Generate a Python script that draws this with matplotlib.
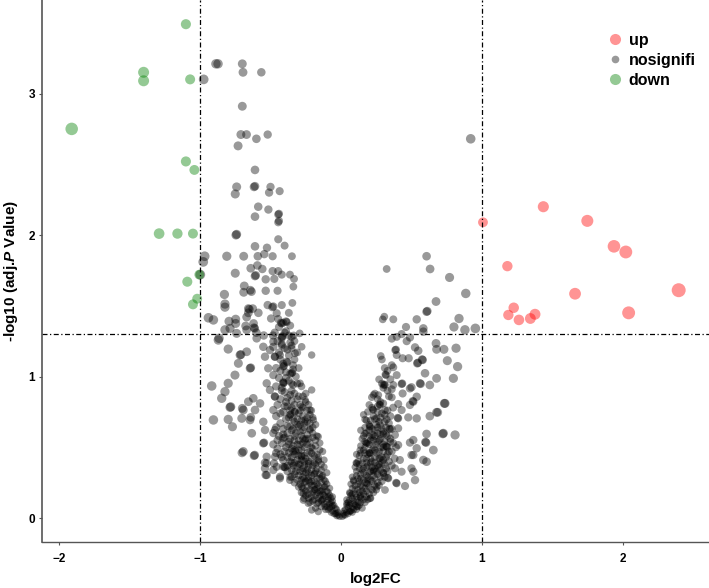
import numpy as np
import matplotlib
matplotlib.use("Agg")
import matplotlib.pyplot as plt
from matplotlib.lines import Line2D

plt.rcParams['font.family'] = ['Liberation Sans', 'DejaVu Sans']
plt.rcParams['mathtext.fontset'] = 'custom'
plt.rcParams['mathtext.rm'] = 'Liberation Sans:bold'
plt.rcParams['mathtext.it'] = 'Liberation Sans:bold:italic'

# significant genes (log2FC, -log10 adj.P)
up_x = [1.435, 1.007, 1.747, 1.936, 2.02, 1.18, 1.66, 2.395, 1.225, 1.187, 1.262, 1.343, 1.376, 2.04]
up_y = [2.20, 2.09, 2.10, 1.92, 1.88, 1.78, 1.585, 1.61, 1.486, 1.435, 1.40, 1.41, 1.44, 1.45]

down_x = [-1.10, -1.40, -1.40, -1.07, -1.91, -1.10, -1.04, -1.29, -1.16, -1.05, -1.005, -1.09, -1.02, -1.05]
down_y = [3.49, 3.15, 3.09, 3.10, 2.75, 2.52, 2.46, 2.01, 2.01, 2.01, 1.72, 1.67, 1.55, 1.51]

# non significant genes, by region of the cloud
ns_left_upper = [
    (-0.887, 3.21), (-0.872, 3.21), (-0.70, 3.21), (-0.695, 3.15), (-0.565, 3.15), (-0.974, 3.10),
    (-0.70, 2.91), (-0.71, 2.71), (-0.67, 2.71), (-0.60, 2.68), (-0.52, 2.71), (-0.73, 2.63), (-0.61, 2.46),
    (-0.74, 2.34), (-0.617, 2.34), (-0.61, 2.345), (-0.50, 2.34), (-0.75, 2.29), (-0.51, 2.30), (-0.435, 2.31),
    (-0.587, 2.20), (-0.515, 2.18), (-0.445, 2.145), (-0.44, 2.15), (-0.61, 2.13), (-0.44, 2.10), (-0.445, 2.09),
    (-0.74, 2.005), (-0.745, 2.00),
    (-0.61, 1.92), (-0.525, 1.91), (-0.445, 1.97), (-0.40, 1.925),
    (-0.967, 1.85), (-0.977, 1.81), (-0.81, 1.85), (-0.69, 1.85), (-0.59, 1.85), (-0.544, 1.865), (-0.485, 1.85),
    (-0.348, 1.85),
    (-0.64, 1.765), (-0.593, 1.785), (-0.558, 1.76), (-0.485, 1.745), (-0.445, 1.745), (-0.75, 1.73), (-0.61, 1.71),
    (-0.605, 1.715), (-0.534, 1.687), (-0.473, 1.69), (-0.42, 1.72), (-0.362, 1.72), (-0.333, 1.69), (-0.998, 1.72),
    (-0.338, 1.635), (-0.686, 1.64), (-0.643, 1.61), (-0.635, 1.60), (-0.69, 1.595), (-0.534, 1.606), (-0.45, 1.606),
    (-0.827, 1.58),
    (-0.823, 1.49), (-0.657, 1.48), (-0.650, 1.475), (-0.586, 1.45), (-0.52, 1.505), (-0.487, 1.49), (-0.480, 1.495),
    (-0.42, 1.505), (-0.345, 1.52),
    (-0.94, 1.415), (-0.905, 1.40), (-0.794, 1.39), (-0.747, 1.405), (-0.669, 1.42), (-0.676, 1.357), (-0.657, 1.45),
    (-0.496, 1.41), (-0.445, 1.406), (-0.426, 1.38), (-0.420, 1.375), (-0.39, 1.39), (-0.385, 1.385), (-0.37, 1.45),
    (-0.456, 1.447),
    (-0.617, 1.345), (-0.612, 1.34), (-0.60, 1.31), (-0.548, 1.29), (-0.482, 1.29), (-0.40, 1.31), (-0.336, 1.29),
    (-0.293, 1.305), (-0.865, 1.27), (-0.74, 1.305), (-0.823, 1.33), (-0.787, 1.34), (-0.747, 1.375), (-0.62, 1.375),
    (-0.626, 1.48), (-0.669, 1.33), (-0.823, 1.512),
]

ns_left_middle = [
    (-0.87, 1.258), (-0.80, 1.194), (-0.716, 1.152), (-0.710, 1.155), (-0.669, 1.175), (-0.728, 1.093),
    (-0.645, 1.058), (-0.640, 1.062), (-0.752, 1.01), (-0.917, 0.933), (-0.80, 0.952), (-0.823, 0.893),
    (-0.846, 0.846), (-0.787, 0.782), (-0.782, 0.786), (-0.693, 0.763), (-0.622, 0.846), (-0.657, 0.822),
    (-0.905, 0.693), (-0.80, 0.697), (-0.77, 0.645), (-0.704, 0.704), (-0.645, 0.693), (-0.633, 0.599),
    (-0.70, 0.775), (-0.64, 0.711),
    (-0.527, 0.952), (-0.504, 0.905), (-0.468, 0.857), (-0.48, 0.763), (-0.41, 0.563), (-0.468, 0.622),
    (-0.539, 0.622), (-0.551, 0.68), (-0.61, 0.763), (-0.574, 0.81), (-0.539, 1.14), (-0.504, 1.187),
    (-0.551, 1.21), (-0.598, 1.27), (-0.48, 1.246), (-0.468, 1.14), (-0.516, 1.058), (-0.41, 1.07),
    (-0.405, 1.075), (-0.35, 1.023), (-0.345, 1.028), (-0.41, 0.952), (-0.405, 0.956), (-0.35, 0.952),
    (-0.291, 0.952), (-0.208, 1.152), (-0.208, 0.905), (-0.255, 0.834), (-0.326, 0.751), (-0.362, 0.728),
    (-0.357, 0.732), (-0.279, 0.787), (-0.22, 0.763), (-0.196, 0.693), (-0.255, 0.693), (-0.303, 0.645),
    (-0.22, 0.622), (-0.161, 0.575), (-0.255, 0.551),
    (-0.42, 1.28), (-0.415, 1.285), (-0.35, 1.28), (-0.42, 1.23), (-0.35, 1.22), (-0.326, 1.164),
    (-0.279, 1.21), (-0.385, 1.105), (-0.433, 1.152),
]

ns_left_lower = [
    (-0.693, 0.47), (-0.702, 0.461), (-0.617, 0.44), (-0.612, 0.445), (-0.551, 0.528), (-0.546, 0.532),
    (-0.539, 0.39), (-0.527, 0.304), (-0.456, 0.362), (-0.397, 0.358), (-0.433, 0.28), (-0.35, 0.292),
    (-0.527, 0.433), (-0.468, 0.433), (-0.267, 0.174), (-0.267, 0.127), (-0.326, 0.48), (-0.279, 0.433),
    (-0.208, 0.457), (-0.161, 0.41), (-0.232, 0.386), (-0.184, 0.316), (-0.137, 0.292), (-0.232, 0.268),
    (-0.113, 0.221), (-0.184, 0.198), (-0.09, 0.15), (-0.137, 0.127), (-0.066, 0.08), (-0.113, 0.08),
    (-0.03, 0.033), (-0.232, 0.104), (-0.208, 0.057), (-0.161, 0.045), (-0.534, 0.304), (-0.48, 0.339),
    (-0.41, 0.362), (-0.279, 0.221), (-0.262, 0.139), (-0.527, 0.386), (-0.475, 0.386), (-0.539, 0.351),
    (-0.433, 0.292), (-0.362, 0.268),
]

ns_left_core = [
    (-0.02, 0.02), (-0.04, 0.03), (-0.06, 0.05), (-0.03, 0.06), (-0.08, 0.07), (-0.05, 0.09), (-0.10, 0.08),
    (-0.07, 0.11), (-0.12, 0.10), (-0.09, 0.13), (-0.01, 0.01), (-0.03, 0.015), (-0.05, 0.03), (-0.02, 0.04),
    (-0.07, 0.04), (-0.04, 0.07), (-0.09, 0.06), (-0.06, 0.09),
    (-0.14, 0.12), (-0.11, 0.15), (-0.16, 0.14), (-0.13, 0.17), (-0.18, 0.16), (-0.08, 0.16), (-0.15, 0.19),
    (-0.20, 0.18), (-0.10, 0.19), (-0.17, 0.21), (-0.22, 0.20), (-0.12, 0.22),
    (-0.19, 0.23), (-0.24, 0.22), (-0.14, 0.25), (-0.21, 0.26), (-0.26, 0.25), (-0.17, 0.28), (-0.23, 0.29),
    (-0.28, 0.27), (-0.12, 0.27), (-0.19, 0.31), (-0.30, 0.30), (-0.25, 0.32), (-0.15, 0.31),
    (-0.21, 0.34), (-0.27, 0.35), (-0.32, 0.33), (-0.17, 0.35), (-0.23, 0.37), (-0.29, 0.38), (-0.34, 0.37),
    (-0.19, 0.39), (-0.26, 0.40), (-0.14, 0.38), (-0.31, 0.41), (-0.36, 0.40), (-0.21, 0.42),
    (-0.28, 0.44), (-0.33, 0.45), (-0.24, 0.46), (-0.17, 0.45), (-0.38, 0.43), (-0.30, 0.48), (-0.20, 0.49),
    (-0.35, 0.49), (-0.26, 0.50), (-0.40, 0.47), (-0.15, 0.48),
    (-0.22, 0.53), (-0.31, 0.52), (-0.37, 0.54), (-0.27, 0.56), (-0.18, 0.55), (-0.33, 0.58), (-0.24, 0.59),
    (-0.40, 0.57), (-0.29, 0.61), (-0.20, 0.60), (-0.35, 0.62),
    (-0.26, 0.64), (-0.31, 0.66), (-0.22, 0.67), (-0.38, 0.65), (-0.28, 0.69), (-0.18, 0.66), (-0.34, 0.70),
    (-0.24, 0.71),
    (-0.30, 0.74), (-0.36, 0.76), (-0.27, 0.78), (-0.21, 0.76), (-0.33, 0.80), (-0.40, 0.79), (-0.25, 0.82),
    (-0.38, 0.85), (-0.30, 0.86), (-0.35, 0.90), (-0.42, 0.92), (-0.28, 0.93), (-0.37, 0.97), (-0.32, 1.00),
    (-0.44, 0.99),
    (-0.39, 1.03), (-0.34, 1.08), (-0.43, 1.12), (-0.37, 1.15), (-0.31, 1.17), (-0.40, 1.20), (-0.45, 1.25),
    (-0.36, 1.24), (-0.39, 1.32), (-0.44, 1.35),
]

ns_left_core2 = [
    (-0.06, 0.12), (-0.10, 0.11), (-0.13, 0.13), (-0.16, 0.11), (-0.19, 0.13), (-0.21, 0.15), (-0.07, 0.14),
    (-0.12, 0.16), (-0.15, 0.16), (-0.17, 0.18), (-0.23, 0.17), (-0.25, 0.19), (-0.09, 0.18), (-0.13, 0.20),
    (-0.19, 0.20), (-0.27, 0.21), (-0.21, 0.23), (-0.16, 0.23), (-0.10, 0.24), (-0.29, 0.24), (-0.25, 0.26),
    (-0.19, 0.26), (-0.15, 0.28), (-0.31, 0.27), (-0.27, 0.29), (-0.21, 0.30), (-0.13, 0.30), (-0.33, 0.31),
    (-0.29, 0.33), (-0.24, 0.34), (-0.18, 0.33), (-0.35, 0.34), (-0.31, 0.36), (-0.26, 0.37), (-0.20, 0.37),
    (-0.16, 0.40), (-0.38, 0.37), (-0.33, 0.39), (-0.28, 0.41), (-0.23, 0.40), (-0.41, 0.41), (-0.35, 0.43),
    (-0.30, 0.44), (-0.26, 0.44), (-0.19, 0.44), (-0.43, 0.45), (-0.37, 0.46), (-0.32, 0.47), (-0.22, 0.47),
    (-0.28, 0.48), (-0.45, 0.49), (-0.39, 0.50), (-0.34, 0.51), (-0.29, 0.52), (-0.24, 0.52), (-0.18, 0.51),
    (-0.42, 0.53), (-0.36, 0.56), (-0.30, 0.55), (-0.25, 0.56), (-0.20, 0.57), (-0.44, 0.58), (-0.38, 0.60),
    (-0.32, 0.60), (-0.27, 0.62), (-0.22, 0.63), (-0.41, 0.63), (-0.36, 0.65), (-0.29, 0.66), (-0.24, 0.68),
    (-0.33, 0.68), (-0.39, 0.70), (-0.27, 0.72), (-0.20, 0.71), (-0.43, 0.74), (-0.33, 0.75), (-0.24, 0.76),
    (-0.38, 0.79), (-0.29, 0.80), (-0.35, 0.83), (-0.43, 0.84), (-0.27, 0.86), (-0.33, 0.88), (-0.40, 0.89),
    (-0.46, 0.93), (-0.31, 0.95), (-0.41, 0.96), (-0.36, 1.02), (-0.30, 1.06), (-0.46, 1.06), (-0.41, 1.09),
    (-0.33, 1.12), (-0.44, 1.17), (-0.38, 1.19), (-0.48, 1.21), (-0.33, 1.25), (-0.42, 1.27),
]

ns_left_core3 = [
    (-0.11, 0.06), (-0.14, 0.08), (-0.17, 0.10), (-0.20, 0.12), (-0.23, 0.14), (-0.08, 0.10), (-0.18, 0.07),
    (-0.25, 0.16), (-0.22, 0.11), (-0.14, 0.19), (-0.28, 0.18), (-0.06, 0.15),
    (-0.30, 0.22), (-0.33, 0.25), (-0.08, 0.21), (-0.11, 0.26), (-0.36, 0.29), (-0.22, 0.25), (-0.26, 0.28),
    (-0.17, 0.24), (-0.38, 0.33), (-0.10, 0.32), (-0.14, 0.34), (-0.40, 0.36), (-0.23, 0.32), (-0.27, 0.33),
    (-0.12, 0.36), (-0.30, 0.38), (-0.18, 0.38), (-0.35, 0.39),
    (-0.42, 0.43), (-0.12, 0.41), (-0.16, 0.43), (-0.25, 0.42), (-0.46, 0.46), (-0.34, 0.47), (-0.13, 0.47),
    (-0.21, 0.50), (-0.48, 0.52), (-0.37, 0.52), (-0.27, 0.53), (-0.15, 0.53), (-0.45, 0.55), (-0.33, 0.55),
    (-0.23, 0.56), (-0.41, 0.59), (-0.28, 0.58), (-0.17, 0.58), (-0.48, 0.60),
    (-0.46, 0.64), (-0.34, 0.63), (-0.20, 0.64), (-0.43, 0.67), (-0.26, 0.67), (-0.37, 0.71), (-0.31, 0.70),
    (-0.22, 0.73), (-0.46, 0.72), (-0.41, 0.75), (-0.35, 0.78), (-0.29, 0.76), (-0.45, 0.80), (-0.23, 0.80),
    (-0.39, 0.82), (-0.31, 0.84), (-0.47, 0.86), (-0.36, 0.87), (-0.25, 0.88), (-0.42, 0.90),
    (-0.34, 0.94), (-0.39, 0.99), (-0.48, 1.01), (-0.34, 1.05), (-0.43, 1.04), (-0.38, 1.10), (-0.47, 1.14),
    (-0.35, 1.20), (-0.42, 1.22), (-0.37, 1.29), (-0.47, 1.31), (-0.41, 1.38), (-0.36, 1.36),
]

ns_right_upper = [
    (0.92, 2.68), (0.607, 1.85), (0.324, 1.76), (0.632, 1.76), (0.770, 1.70), (0.885, 1.587), (0.674, 1.53),
    (0.607, 1.458), (0.612, 1.462), (0.307, 1.423), (0.296, 1.404), (0.371, 1.404), (0.537, 1.404),
    (0.837, 1.41), (0.801, 1.35), (0.879, 1.33), (0.953, 1.34), (0.461, 1.35), (0.584, 1.34), (0.584, 1.317),
    (0.43, 1.30), (0.395, 1.28), (0.36, 1.267), (0.489, 1.276), (0.466, 1.25), (0.674, 1.234), (0.525, 1.206),
    (0.385, 1.187), (0.39, 1.19), (0.548, 1.182), (0.678, 1.192), (0.73, 1.192), (0.816, 1.20), (0.282, 1.145),
    (0.395, 1.152), (0.437, 1.129), (0.48, 1.129), (0.579, 1.117), (0.575, 1.12), (0.541, 1.093),
    (0.545, 1.097), (0.754, 1.112), (0.827, 1.07), (0.371, 1.065), (0.319, 1.01), (0.315, 1.014),
    (0.395, 1.01), (0.596, 1.023), (0.678, 0.987), (0.797, 0.987), (0.312, 0.94), (0.308, 0.944),
    (0.371, 0.94), (0.43, 0.947), (0.434, 0.951), (0.56, 0.952), (0.565, 0.948), (0.63, 0.94), (0.50, 0.924),
]

ns_right_lower = [
    (0.30, 0.94), (0.489, 0.916), (0.437, 0.88), (0.218, 0.853), (0.265, 0.869), (0.36, 0.853), (0.537, 0.857),
    (0.513, 0.822), (0.509, 0.826), (0.489, 0.799), (0.406, 0.806), (0.738, 0.81), (0.277, 0.799),
    (0.273, 0.803), (0.229, 0.763), (0.225, 0.767), (0.312, 0.763), (0.43, 0.763), (0.678, 0.747),
    (0.63, 0.72), (0.17, 0.697), (0.253, 0.704), (0.324, 0.697), (0.406, 0.704), (0.402, 0.708),
    (0.477, 0.711), (0.537, 0.704), (0.206, 0.645), (0.202, 0.649), (0.277, 0.657), (0.348, 0.627),
    (0.344, 0.631), (0.406, 0.634), (0.17, 0.599), (0.229, 0.587), (0.30, 0.594), (0.383, 0.587),
    (0.607, 0.594), (0.726, 0.599), (0.722, 0.595), (0.809, 0.587), (0.603, 0.533), (0.599, 0.537),
    (0.489, 0.533), (0.537, 0.493), (0.655, 0.48), (0.406, 0.516), (0.324, 0.504), (0.320, 0.508),
    (0.182, 0.528), (0.178, 0.532), (0.418, 0.41), (0.513, 0.445), (0.584, 0.41), (0.50, 0.351),
    (0.383, 0.351), (0.43, 0.327), (0.525, 0.268), (0.454, 0.226), (0.395, 0.245), (0.391, 0.249),
    (0.336, 0.28), (0.332, 0.284), (0.206, 0.457), (0.202, 0.461), (0.277, 0.421), (0.135, 0.48),
    (0.111, 0.386), (0.107, 0.39), (0.229, 0.339), (0.30, 0.316), (0.087, 0.268), (0.182, 0.245),
    (0.253, 0.221), (0.312, 0.198), (0.064, 0.174), (0.135, 0.15), (0.206, 0.139), (0.04, 0.104),
    (0.111, 0.08), (0.016, 0.033), (0.064, 0.045), (0.733, 0.81), (0.686, 0.747), (0.513, 0.551),
    (0.50, 0.445), (0.607, 0.398), (0.513, 0.327),
]

ns_right_core = [
    (0.02, 0.02), (0.04, 0.04), (0.03, 0.06), (0.06, 0.05), (0.05, 0.08), (0.08, 0.07), (0.07, 0.10),
    (0.10, 0.09), (0.01, 0.01), (0.03, 0.02), (0.05, 0.03), (0.02, 0.05), (0.07, 0.05), (0.04, 0.09),
    (0.09, 0.06),
    (0.09, 0.12), (0.12, 0.11), (0.06, 0.13), (0.11, 0.15), (0.14, 0.14), (0.08, 0.17), (0.13, 0.18),
    (0.16, 0.17), (0.10, 0.20), (0.18, 0.19),
    (0.15, 0.22), (0.12, 0.24), (0.20, 0.22), (0.17, 0.25), (0.09, 0.26), (0.22, 0.26), (0.14, 0.28),
    (0.19, 0.29), (0.24, 0.28), (0.11, 0.30),
    (0.16, 0.32), (0.21, 0.33), (0.26, 0.31), (0.13, 0.35), (0.18, 0.36), (0.24, 0.35), (0.28, 0.34),
    (0.15, 0.39), (0.21, 0.39), (0.27, 0.38),
    (0.18, 0.42), (0.24, 0.43), (0.13, 0.44), (0.30, 0.41), (0.20, 0.46), (0.27, 0.47), (0.16, 0.48),
    (0.33, 0.45), (0.23, 0.50),
    (0.19, 0.53), (0.26, 0.54), (0.15, 0.56), (0.30, 0.52), (0.22, 0.57), (0.28, 0.59), (0.35, 0.56),
    (0.18, 0.60),
    (0.24, 0.62), (0.20, 0.66), (0.27, 0.68), (0.32, 0.64), (0.23, 0.72), (0.29, 0.74), (0.19, 0.75),
    (0.35, 0.72), (0.26, 0.79),
    (0.24, 0.88), (0.30, 0.92), (0.34, 0.86), (0.27, 0.98), (0.33, 1.04), (0.29, 1.12), (0.36, 1.08),
]

ns_right_core2 = [
    (0.06, 0.09), (0.09, 0.10), (0.12, 0.08), (0.05, 0.11), (0.08, 0.14), (0.11, 0.13), (0.14, 0.11),
    (0.16, 0.13), (0.07, 0.16), (0.10, 0.17), (0.14, 0.16), (0.18, 0.15), (0.20, 0.17), (0.12, 0.20),
    (0.15, 0.19), (0.08, 0.21), (0.17, 0.21), (0.22, 0.20), (0.24, 0.23), (0.10, 0.23), (0.13, 0.26),
    (0.19, 0.24), (0.16, 0.27), (0.21, 0.27), (0.26, 0.25), (0.12, 0.28), (0.18, 0.30), (0.23, 0.30),
    (0.28, 0.29), (0.14, 0.31), (0.20, 0.32), (0.25, 0.33), (0.30, 0.32), (0.11, 0.33), (0.16, 0.35),
    (0.22, 0.36), (0.27, 0.36), (0.32, 0.35), (0.13, 0.38), (0.18, 0.39), (0.24, 0.39), (0.29, 0.39),
    (0.34, 0.40), (0.16, 0.42), (0.21, 0.42), (0.27, 0.42), (0.32, 0.43), (0.14, 0.46), (0.19, 0.45),
    (0.25, 0.46), (0.30, 0.47), (0.36, 0.47), (0.17, 0.50), (0.22, 0.48), (0.28, 0.50), (0.33, 0.50),
    (0.20, 0.52), (0.25, 0.52), (0.31, 0.54), (0.37, 0.53), (0.17, 0.54), (0.23, 0.55), (0.28, 0.56),
    (0.20, 0.58), (0.26, 0.60), (0.32, 0.59), (0.22, 0.63), (0.29, 0.63), (0.17, 0.64), (0.25, 0.66),
    (0.31, 0.68), (0.21, 0.69), (0.28, 0.71), (0.33, 0.76), (0.22, 0.78), (0.30, 0.81), (0.26, 0.84),
    (0.33, 0.90), (0.29, 0.95), (0.35, 0.98), (0.31, 1.06),
]

ns_right_core3 = [
    (0.08, 0.04), (0.11, 0.06), (0.13, 0.09), (0.15, 0.07), (0.17, 0.11), (0.19, 0.13), (0.04, 0.13),
    (0.06, 0.18), (0.21, 0.14), (0.23, 0.18),
    (0.07, 0.24), (0.25, 0.20), (0.27, 0.23), (0.14, 0.23), (0.29, 0.26), (0.08, 0.29), (0.19, 0.27),
    (0.31, 0.29), (0.10, 0.36), (0.15, 0.34), (0.33, 0.33), (0.23, 0.33), (0.26, 0.37), (0.36, 0.37),
    (0.19, 0.37), (0.12, 0.40), (0.31, 0.38),
    (0.22, 0.40), (0.38, 0.42), (0.29, 0.43), (0.11, 0.45), (0.17, 0.46), (0.34, 0.47), (0.24, 0.48),
    (0.14, 0.51), (0.39, 0.50), (0.30, 0.50), (0.21, 0.55), (0.35, 0.54), (0.27, 0.55), (0.16, 0.58),
    (0.33, 0.58), (0.24, 0.58),
    (0.14, 0.62), (0.30, 0.61), (0.20, 0.62), (0.36, 0.63), (0.26, 0.64), (0.18, 0.69), (0.34, 0.67),
    (0.24, 0.70), (0.31, 0.73), (0.16, 0.73), (0.26, 0.75), (0.37, 0.78), (0.20, 0.80), (0.28, 0.82),
    (0.23, 0.87), (0.36, 0.91),
]

ns = np.array(ns_left_upper + ns_left_middle + ns_left_lower + ns_left_core + ns_left_core2
              + ns_left_core3 + ns_right_upper + ns_right_lower + ns_right_core + ns_right_core2
              + ns_right_core3)

DPI = 100


def marker_area(x):
    # point diameter grows with |log2FC| (pixels -> points^2)
    d = 6.8 + 3.0 * np.abs(np.asarray(x))
    return (d * 72.0 / DPI) ** 2


fig = plt.figure(figsize=(7.09, 5.88), dpi=DPI)
ax = fig.add_axes([42 / 709, 46 / 588, 1 - 42 / 709, 1 - 46 / 588])

ax.scatter(ns[:, 0], ns[:, 1], s=marker_area(ns[:, 0]), c='black', alpha=0.4, linewidths=0)
ax.scatter(up_x, up_y, s=marker_area(up_x), c='red', alpha=0.42, linewidths=0)
ax.scatter(down_x, down_y, s=marker_area(down_x), c='green', alpha=0.42, linewidths=0)

dash = (0, (4, 2, 1, 2))
ax.axhline(-np.log10(0.05), color='black', lw=0.9, ls=dash)
ax.axvline(-1, color='black', lw=0.9, ls=dash)
ax.axvline(1, color='black', lw=0.9, ls=dash)

ax.set_xlim(-2.1206, 2.610)
ax.set_ylim(-0.1696, 3.661)
ax.set_xticks([-2, -1, 0, 1, 2])
ax.set_yticks([0, 1, 2, 3])
ax.set_xticklabels(['\u22122', '\u22121', '0', '1', '2'])

for side in ['top', 'right']:
    ax.spines[side].set_visible(False)
ax.spines['left'].set_color('#555555')
ax.spines['bottom'].set_color('#555555')
ax.spines['left'].set_linewidth(1.2)
ax.spines['bottom'].set_linewidth(1.0)
ax.tick_params(length=2, color='#555555', labelsize=8.5)
ax.tick_params(axis='x', pad=6)
ax.tick_params(axis='y', pad=3)
for lab in ax.get_xticklabels() + ax.get_yticklabels():
    lab.set_fontweight('bold')

ax.set_xlabel('log2FC', fontsize=11, fontweight='bold', labelpad=5)
ax.set_ylabel(r'-log10 (adj.$\mathit{P}$ Value)', fontsize=11, fontweight='bold', labelpad=6)

handles = [
    Line2D([], [], ls='none', marker='o', ms=8, mew=0, color='red', alpha=0.42),
    Line2D([], [], ls='none', marker='o', ms=5.5, mew=0, color='black', alpha=0.4),
    Line2D([], [], ls='none', marker='o', ms=8, mew=0, color='green', alpha=0.42),
]
leg = ax.legend(handles, ['up', 'nosignifi', 'down'], loc='upper left',
                bbox_to_anchor=(603 / 709, 1 - 33 / 588), bbox_transform=fig.transFigure,
                frameon=False, fontsize=11.5, handletextpad=0.1, labelspacing=0.3,
                handlelength=1.5, borderaxespad=0, borderpad=0)
for t in leg.get_texts():
    t.set_fontweight('bold')

fig.savefig('out.png', dpi=DPI)
